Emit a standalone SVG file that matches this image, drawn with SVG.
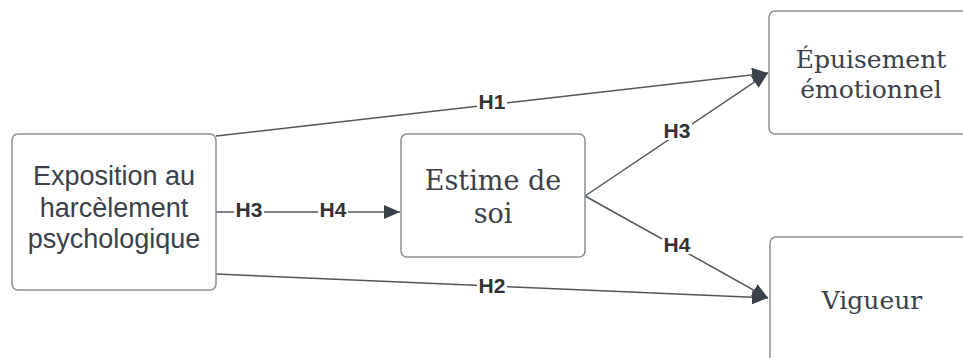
<svg xmlns="http://www.w3.org/2000/svg" width="963" height="358" viewBox="0 0 963 358">
<style>
.box{fill:#ffffff;stroke:#8a8e94;stroke-width:1.5}
.ser{font-family:"DejaVu Serif","Liberation Serif",serif;fill:#3a414a;text-anchor:middle}
.san{font-family:"Liberation Sans",Arial,sans-serif;fill:#3a414a;text-anchor:middle;font-size:27px}
.edge{fill:none;stroke:#50555c;stroke-width:1.5}
.lbl{font-family:"Liberation Sans",Arial,sans-serif;font-weight:bold;font-size:21px;fill:#333333;text-anchor:middle}
.lblbg{fill:#ffffff}
</style>
<defs>
<marker id="arr" viewBox="0 0 16 14" refX="16" refY="7" markerWidth="16" markerHeight="14" markerUnits="userSpaceOnUse" orient="auto">
<path d="M0,0 L16,7 L0,14 Z" fill="#3a414a"/>
</marker>
</defs>
<rect width="963" height="358" fill="#ffffff"/>
<g id="connectors">
<path class="edge" d="M216,136 L768,73" marker-end="url(#arr)"/>
<path class="edge" d="M216,274 L768,298" marker-end="url(#arr)"/>
<path class="edge" d="M216,212 L400,212" marker-end="url(#arr)"/>
<path class="edge" d="M585,196 L768,73" marker-end="url(#arr)"/>
<path class="edge" d="M585,196 L768,298" marker-end="url(#arr)"/>
<rect class="lblbg" x="477" y="92" width="30" height="18"/>
<text class="lbl" x="492" y="109">H1</text>
<rect class="lblbg" x="477" y="277" width="30" height="18"/>
<text class="lbl" x="492" y="293">H2</text>
<rect class="lblbg" x="234" y="201" width="30" height="18"/>
<text class="lbl" x="249" y="217">H3</text>
<rect class="lblbg" x="318" y="201" width="30" height="18"/>
<text class="lbl" x="333" y="217">H4</text>
<rect class="lblbg" x="662" y="122" width="30" height="18"/>
<text class="lbl" x="677" y="138">H3</text>
<rect class="lblbg" x="662" y="236" width="30" height="18"/>
<text class="lbl" x="677" y="252">H4</text>
</g>
<g id="node-exposition">
<rect class="box" x="12" y="134" width="204" height="156" rx="6"/>
<text class="san" x="114" y="185">Exposition au</text>
<text class="san" x="114" y="217">harcèlement</text>
<text class="san" x="114" y="248">psychologique</text>
</g>
<g id="node-estime">
<rect class="box" x="401" y="134" width="184" height="123" rx="6"/>
<text class="ser" x="493" y="190" font-size="27">Estime de</text>
<text class="ser" x="493" y="223" font-size="27">soi</text>
</g>
<g id="node-epuisement">
<rect class="box" x="769" y="11" width="204" height="123" rx="6"/>
<text class="ser" x="871" y="68" font-size="25">Épuisement</text>
<text class="ser" x="871" y="98" font-size="25">émotionnel</text>
</g>
<g id="node-vigueur">
<rect class="box" x="770" y="237" width="204" height="156" rx="6"/>
<text class="ser" x="872" y="309" font-size="25">Vigueur</text>
</g>
</svg>
